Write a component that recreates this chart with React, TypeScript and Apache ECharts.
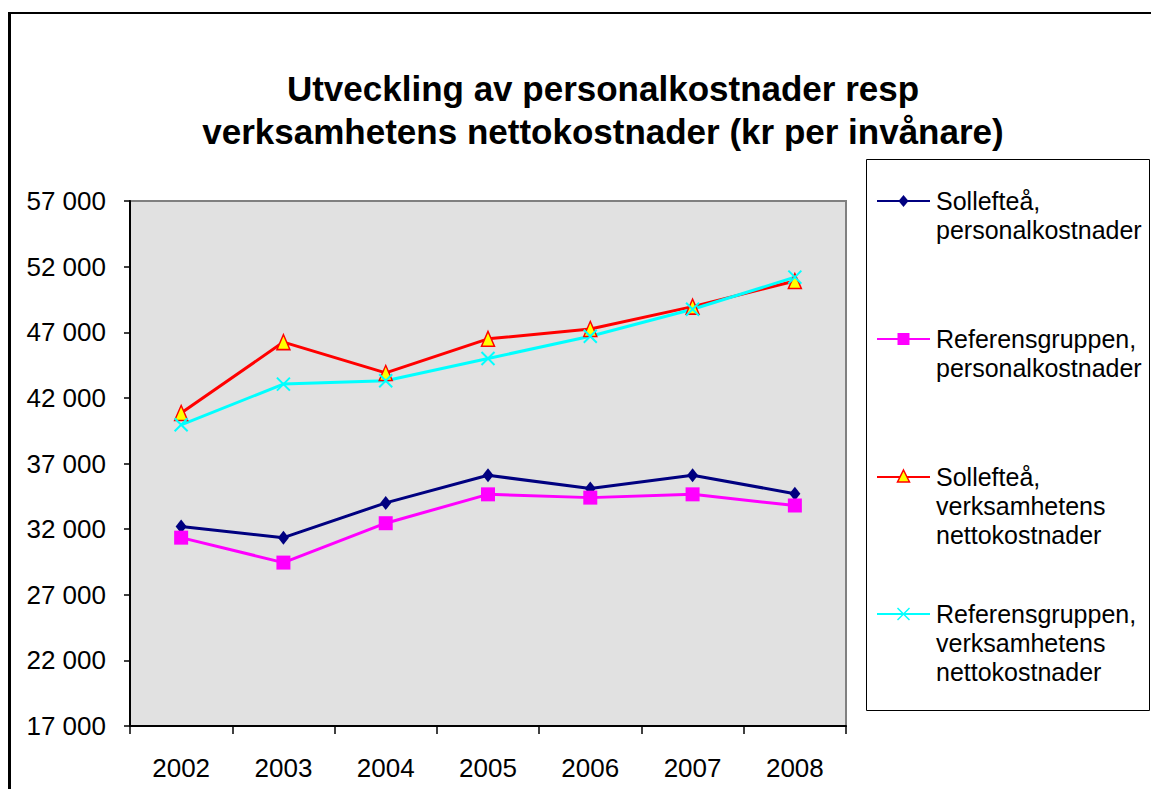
import React, { useEffect, useRef } from "react";
import * as echarts from "echarts";

const categories = ["2002", "2003", "2004", "2005", "2006", "2007", "2008"];
const seriesNames = [
  "Sollefteå, personalkostnader",
  "Referensgruppen, personalkostnader",
  "Sollefteå, verksamhetens nettokostnader",
  "Referensgruppen, verksamhetens nettokostnader",
];
const legendLines = [
  ["Sollefteå,", "personalkostnader"],
  ["Referensgruppen,", "personalkostnader"],
  ["Sollefteå,", "verksamhetens", "nettokostnader"],
  ["Referensgruppen,", "verksamhetens", "nettokostnader"],
];
const solleftaPersonal = [32200, 31350, 34000, 36100, 35100, 36100, 34700];
const refPersonal = [31350, 29450, 32450, 34650, 34400, 34650, 33800];
const solleftaNetto = [40850, 46250, 43900, 46500, 47250, 48950, 50900];
const refNetto = [39950, 43050, 43300, 45000, 46700, 48750, 51200];
const yTicks = [17000, 22000, 27000, 32000, 37000, 42000, 47000, 52000, 57000];

const titleText =
  "Utveckling av personalkostnader resp\nverksamhetens nettokostnader (kr per invånare)";

const FONT = "'Liberation Sans', Arial, sans-serif";
const xShape = "path://M0,0 L10,10 M10,0 L0,10";

function fmt(v: number): string {
  return String(v).replace(/\B(?=(\d{3})+(?!\d))/g, " ");
}

export default function App() {
  const ref = useRef<HTMLDivElement>(null);
  useEffect(() => {
    if (!ref.current) return;
    const chart = echarts.init(ref.current, null, { renderer: "svg" });

    const legendY = [201, 339, 477, 614];
    const lx0 = 877;
    const lx1 = 930;
    const mx = 903.5;
    const lineH = 29;
    const legendElems: any[] = [
      {
        type: "rect",
        shape: { x: 866.5, y: 159.5, width: 283, height: 551 },
        style: { fill: "#ffffff", stroke: "#000000", lineWidth: 1 },
        z: 10,
      },
    ];
    const colors = ["#000080", "#ff00ff", "#ff0000", "#00ffff"];
    legendY.forEach((y, i) => {
      legendElems.push({
        type: "line",
        shape: { x1: lx0, y1: y, x2: lx1, y2: y },
        style: { stroke: colors[i], lineWidth: 2 },
        z: 11,
      });
      if (i === 0) {
        legendElems.push({
          type: "polygon",
          shape: { points: [[mx, y - 6], [mx + 5, y], [mx, y + 6], [mx - 5, y]] },
          style: { fill: "#000080" },
          z: 12,
        });
      } else if (i === 1) {
        legendElems.push({
          type: "rect",
          shape: { x: mx - 6, y: y - 6, width: 12, height: 12 },
          style: { fill: "#ff00ff" },
          z: 12,
        });
      } else if (i === 2) {
        legendElems.push({
          type: "polygon",
          shape: { points: [[mx, y - 7], [mx + 6, y + 5], [mx - 6, y + 5]] },
          style: { fill: "#ffff00", stroke: "#ff0000", lineWidth: 1.5 },
          z: 12,
        });
      } else {
        legendElems.push({
          type: "line",
          shape: { x1: mx - 6, y1: y - 6, x2: mx + 6, y2: y + 6 },
          style: { stroke: "#00ffff", lineWidth: 1.5 },
          z: 12,
        });
        legendElems.push({
          type: "line",
          shape: { x1: mx + 6, y1: y - 6, x2: mx - 6, y2: y + 6 },
          style: { stroke: "#00ffff", lineWidth: 1.5 },
          z: 12,
        });
      }
      legendElems.push({
        type: "text",
        x: 936,
        y: y - lineH / 2,
        style: {
          text: legendLines[i].join("\n"),
          fontFamily: FONT,
          fontSize: 25,
          lineHeight: lineH,
          fill: "#000000",
          verticalAlign: "top",
          align: "left",
        },
        z: 12,
      });
    });

    chart.setOption({
      animation: false,
      backgroundColor: "#ffffff",
      title: {
        text: titleText,
        left: 603,
        top: 67,
        padding: 0,
        textAlign: "center",
        textStyle: {
          fontFamily: FONT,
          fontWeight: "bold",
          fontSize: 35,
          lineHeight: 43,
          color: "#000000",
        },
      },
      grid: {
        left: 130,
        right: 305,
        top: 201,
        bottom: 63,
        show: true,
        backgroundColor: "#e1e1e1",
        borderColor: "#808080",
        borderWidth: 2,
      },
      xAxis: {
        type: "category",
        data: categories,
        boundaryGap: true,
        axisLine: { show: true, lineStyle: { color: "#000000", width: 2 } },
        axisTick: { show: true, length: 8, lineStyle: { color: "#000000", width: 1.5 } },
        axisLabel: { color: "#000000", fontFamily: FONT, fontSize: 26, margin: 29 },
        splitLine: { show: false },
      },
      yAxis: {
        type: "value",
        min: yTicks[0],
        max: yTicks[yTicks.length - 1],
        interval: yTicks[1] - yTicks[0],
        axisLine: { show: true, lineStyle: { color: "#000000", width: 2 } },
        axisTick: { show: true, length: 6, lineStyle: { color: "#000000", width: 1.5 } },
        axisLabel: {
          color: "#000000",
          fontFamily: FONT,
          fontSize: 26,
          margin: 24,
          formatter: (v: number) => fmt(v),
        },
        splitLine: { show: false },
      },
      series: [
        {
          name: seriesNames[0],
          type: "line",
          data: solleftaPersonal,
          symbol: "diamond",
          symbolSize: [11, 14],
          lineStyle: { color: "#000080", width: 3 },
          itemStyle: { color: "#000080" },
        },
        {
          name: seriesNames[1],
          type: "line",
          data: refPersonal,
          symbol: "rect",
          symbolSize: 14,
          lineStyle: { color: "#ff00ff", width: 3 },
          itemStyle: { color: "#ff00ff" },
        },
        {
          name: seriesNames[2],
          type: "line",
          data: solleftaNetto,
          symbol: "triangle",
          symbolSize: [13, 15],
          lineStyle: { color: "#ff0000", width: 3 },
          itemStyle: { color: "#ffff00", borderColor: "#ff0000", borderWidth: 1.5 },
        },
        {
          name: seriesNames[3],
          type: "line",
          data: refNetto,
          symbol: xShape,
          symbolSize: 13,
          lineStyle: { color: "#00ffff", width: 3 },
          itemStyle: { color: "#00ffff", borderColor: "#00ffff", borderWidth: 2 },
        },
      ],
      graphic: [
        {
          type: "line",
          shape: { x1: 9.5, y1: 12, x2: 9.5, y2: 800 },
          style: { stroke: "#000000", lineWidth: 3 },
        },
        {
          type: "line",
          shape: { x1: 8, y1: 13, x2: 1160, y2: 13 },
          style: { stroke: "#000000", lineWidth: 2 },
        },
        ...legendElems,
      ],
    });
    return () => chart.dispose();
  }, []);
  return (
    <div
      ref={ref}
      style={{ position: "absolute", left: 0, top: 0, width: 1151, height: 789 }}
    />
  );
}
